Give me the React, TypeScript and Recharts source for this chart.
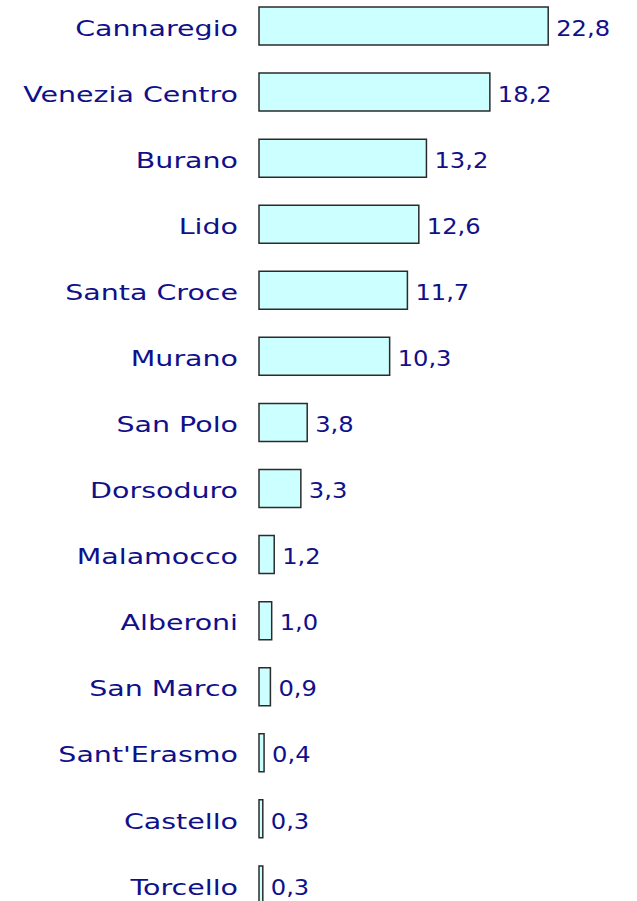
import { BarChart, Bar, XAxis, YAxis, LabelList } from "recharts";

const sestieri = [
  "Cannaregio",
  "Venezia Centro",
  "Burano",
  "Lido",
  "Santa Croce",
  "Murano",
  "San Polo",
  "Dorsoduro",
  "Malamocco",
  "Alberoni",
  "San Marco",
  "Sant'Erasmo",
  "Castello",
  "Torcello",
];

const percentuali = [22.8, 18.2, 13.2, 12.6, 11.7, 10.3, 3.8, 3.3, 1.2, 1.0, 0.9, 0.4, 0.3, 0.3];

const data = sestieri.map((nome, i) => ({ nome, valore: percentuali[i] }));

const NAVY = "#10108a";
const FONT = "'DejaVu Sans', Verdana, sans-serif";

const CategoryTick = (props: any) => {
  const { x, y, payload } = props;
  return (
    <g transform={`translate(${x - 21},${y})`}>
      <text
        transform="scale(1.325,1)"
        textAnchor="end"
        dy="0.45em"
        fill={NAVY}
        fontSize={21.5}
        fontFamily={FONT}
      >
        {payload.value}
      </text>
    </g>
  );
};

const ValueLabel = (props: any) => {
  const { x, y, width, height, value } = props;
  const txt = Number(value).toFixed(1).replace(".", ",");
  return (
    <g transform={`translate(${x + width + 8},${y + height / 2})`}>
      <text
        transform="scale(1.125,1)"
        textAnchor="start"
        dy="0.45em"
        fill={NAVY}
        fontSize={21.5}
        fontFamily={FONT}
      >
        {txt}
      </text>
    </g>
  );
};

export default function App() {
  return (
    <div
      style={{
        position: "absolute",
        left: 0,
        top: 0,
        width: 637,
        height: 901,
        overflow: "hidden",
        background: "#fff",
      }}
    >
      <div style={{ position: "absolute", left: 0, top: -7 }}>
        <BarChart
          width={637}
          height={925}
          data={data}
          layout="vertical"
          margin={{ top: 0, right: 0, bottom: 0, left: 0 }}
          barSize={38}
        >
          <XAxis type="number" domain={[0, 29.8]} hide />
          <YAxis
            type="category"
            dataKey="nome"
            width={259}
            axisLine={false}
            tickLine={false}
            tickSize={0}
            tickMargin={0}
            interval={0}
            tick={<CategoryTick />}
          />
          <Bar
            dataKey="valore"
            fill="#ccffff"
            stroke="#2b2b2b"
            strokeWidth={1.5}
            isAnimationActive={false}
          >
            <LabelList dataKey="valore" content={<ValueLabel />} />
          </Bar>
        </BarChart>
      </div>
    </div>
  );
}
